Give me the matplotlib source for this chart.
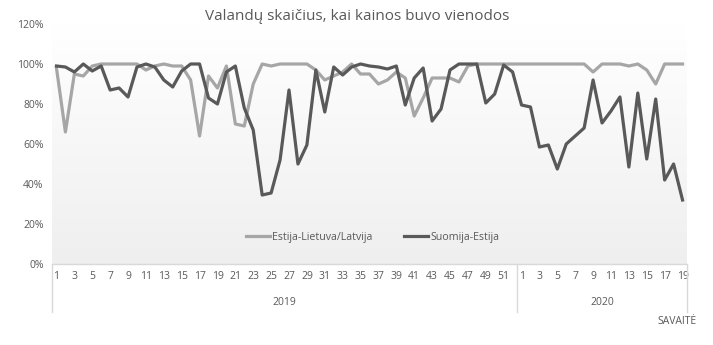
import numpy as np
import matplotlib
matplotlib.use("Agg")
import matplotlib.pyplot as plt
from matplotlib.transforms import blended_transform_factory

plt.rcParams['font.family'] = ['Open Sans', 'DejaVu Sans']

title = "Valandų skaičius, kai kainos buvo vienodos"
series_names = ["Estija-Lietuva/Latvija", "Suomija-Estija"]
years = ["2019", "2020"]
weeks_2019 = list(range(1, 53))
weeks_2020 = list(range(1, 20))
x_axis_title = "SAVAITĖ"

# Share of hours (%) with equal prices, weeks 1-52 of 2019 then weeks 1-19 of 2020
est_lt_lv = [98, 66, 95, 94, 99, 100, 100, 100, 100, 100,
             97, 99, 100, 99, 99, 92, 64, 94, 88, 99,
             70, 69, 90, 100, 99, 100, 100, 100, 100, 97,
             92, 94, 96, 100, 95, 95, 90, 92, 96, 93,
             74, 83, 93, 93, 93, 91, 99, 100, 100, 100,
             100, 100,
             100, 100, 100, 100, 100, 100, 100, 100, 96, 100,
             100, 100, 99, 100, 97, 90, 100, 100, 100]
fi_ee = [99, 98.5, 96, 100, 96.5, 99, 87, 88, 83.5, 98.5,
         100, 98.5, 92, 88.5, 96.5, 100, 100, 83, 80, 96,
         99, 78, 67, 34.5, 35.5, 52, 87, 50, 59.5, 97,
         76, 98.5, 94.5, 98.5, 100, 99, 98.5, 97.5, 99, 79.5,
         93, 98, 71.5, 77.5, 97, 100, 100, 100, 80.5, 85,
         99.5, 96,
         79.5, 78.5, 58.5, 59.5, 47.5, 60, 64, 68, 92, 70.5,
         76.5, 83.5, 48.5, 85.5, 52.5, 82.5, 42, 50, 32]
y_ticks = [0, 20, 40, 60, 80, 100, 120]

week_labels = [str(w) for w in weeks_2019] + [str(w) for w in weeks_2020]
n = len(week_labels)
x = np.arange(n)

fig = plt.figure(figsize=(7.13, 3.45), dpi=100)
ax = fig.add_axes([52 / 713, 1 - 264 / 345, 635 / 713, 240 / 345])

# soft vertical gradient behind the plot
grad = np.linspace(1.0, 0.937, 256).reshape(-1, 1)
ax.imshow(np.dstack([grad, grad, grad]), extent=[0, 1, 0, 1], transform=ax.transAxes,
          aspect='auto', zorder=0, interpolation='bilinear')

ax.plot(x, est_lt_lv, color='#a6a6a6', lw=2.3, label=series_names[0], zorder=2,
        solid_joinstyle='round')
ax.plot(x, fi_ee, color='#595959', lw=2.3, label=series_names[1], zorder=3,
        solid_joinstyle='round')

ax.set_xlim(-0.5, n - 0.5)
ax.set_ylim(0, 120)
ax.set_yticks(y_ticks)
ax.set_yticklabels([f"{v}%" for v in y_ticks])

tick_idx = [i for i in range(n) if int(week_labels[i]) % 2 == 1]
ax.set_xticks(tick_idx)
ax.set_xticklabels([week_labels[i] for i in tick_idx])
ax.tick_params(axis='both', length=0, colors='#595959', labelsize=7.5)
ax.tick_params(axis='y', pad=6)
ax.tick_params(axis='x', pad=5)

for side in ['left', 'right', 'top']:
    ax.spines[side].set_visible(False)
ax.spines['bottom'].set_color('#d9d9d9')
ax.spines['bottom'].set_linewidth(1)

# year groups below the week labels
trans = blended_transform_factory(ax.transData, ax.transAxes)
n19 = len(weeks_2019)
for xb in [-0.5, n19 - 0.5, n - 0.5]:
    ax.plot([xb, xb], [0, -48 / 240], transform=trans, color='#d9d9d9', lw=1,
            clip_on=False)
ax.text((n19 - 1) / 2, -38.5 / 240, years[0], transform=trans, ha='center',
        va='center', fontsize=7.5, color='#595959')
ax.text(n19 + (len(weeks_2020) - 1) / 2, -38.5 / 240, years[1], transform=trans,
        ha='center', va='center', fontsize=7.5, color='#595959')
fig.text(677 / 713, 1 - 321 / 345, x_axis_title, ha='center', va='center',
         fontsize=7.5, color='#595959')

fig.text(357 / 713, 1 - 17 / 345, title, ha='center', va='center',
         fontsize=11, color='#595959')

leg = ax.legend(loc='center', bbox_to_anchor=(0.505, 0.1125), ncol=2, frameon=False,
                fontsize=7.7, handlelength=2.3, handletextpad=0.2,
                columnspacing=2.9)
for t in leg.get_texts():
    t.set_color('#595959')

fig.savefig("out.png", dpi=100)
